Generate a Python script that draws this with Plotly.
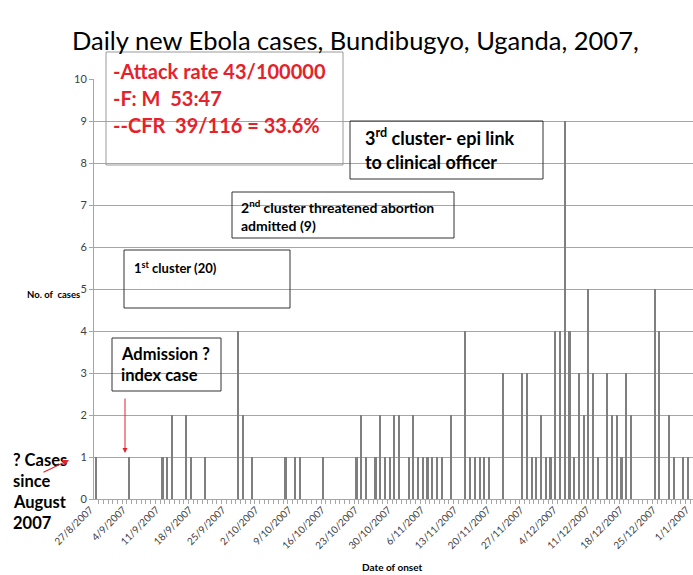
import numpy as np
import plotly.graph_objects as go

# Daily new cases by date of onset, one value per day from 27/8/2007
daily_cases = [
    1, 0, 0, 0, 0, 0, 0,
    1, 0, 0, 0, 0, 0, 0,
    1, 1, 2, 0, 0, 2, 1,
    0, 0, 1, 0, 0, 0, 0,
    0, 0, 4, 2, 0, 1, 0,
    0, 0, 0, 0, 0, 1, 0,
    1, 1, 0, 0, 0, 0, 1,
    0, 0, 0, 0, 0, 0, 1,
    2, 1, 0, 1, 2, 1, 1,
    2, 2, 0, 1, 2, 1, 1,
    1, 1, 1, 1, 0, 2, 0,
    0, 4, 1, 1, 1, 1, 1,
    0, 0, 3, 0, 0, 0, 3,
    3, 1, 1, 2, 1, 1, 4,
    4, 9, 4, 1, 3, 2, 5,
    3, 1, 0, 3, 2, 2, 1,
    3, 2, 0, 0, 0, 0, 5,
    4, 0, 2, 1, 0, 1, 1,
    0,
]

# Weekly date labels along the x axis
tick_labels = [
    "27/8/2007", "4/9/2007", "11/9/2007", "18/9/2007", "25/9/2007",
    "2/10/2007", "9/10/2007", "16/10/2007", "23/10/2007", "30/10/2007",
    "6/11/2007", "13/11/2007", "20/11/2007", "27/11/2007", "4/12/2007",
    "11/12/2007", "18/12/2007", "25/12/2007", "1/1/2007",
]
tick_step = 7

summary_lines = ["-Attack rate 43/100000", "-F: M  53:47", "--CFR  39/116 = 33.6%"]
note_3rd = ["3<sup>rd</sup> cluster- epi link", "to clinical officer"]
note_2nd = ["2<sup>nd</sup> cluster threatened abortion", "admitted (9)"]
note_1st = ["1<sup>st</sup> cluster (20)"]
note_index = ["Admission ?", "index case"]
note_since = ["? Cases", "since", "August", "2007"]

W, H = 693, 575
L, R, T, B = 94, 0, 79, 76
PW, PH = W - L - R, H - T - B
FONT = "Lato, 'Open Sans', sans-serif"
RED = "#e4222b"
GRID = "#a6a6a6"


def px(xp):
    return (xp - L) / PW


def py(yp):
    return (H - B - yp) / PH


days = np.arange(len(daily_cases))

fig = go.Figure()
fig.add_trace(go.Bar(
    x=days, y=daily_cases, width=0.45,
    marker=dict(color="#7f7f7f", line=dict(width=0)),
    hoverinfo="x+y",
))

shapes = []
annotations = []


def box(x0, y0, x1, y1, color="#333333"):
    shapes.append(dict(type="rect", xref="paper", yref="paper",
                       x0=px(x0), x1=px(x1), y0=py(y1), y1=py(y0),
                       line=dict(color=color, width=1), fillcolor="rgba(255,255,255,0)",
                       layer="above"))


def text_lines(lines, x, ys, size, color="#000000", bold=True):
    for line, yy in zip(lines, ys):
        annotations.append(dict(
            xref="paper", yref="paper", x=px(x), y=py(yy),
            xanchor="left", yanchor="middle", showarrow=False,
            text=f"<b>{line}</b>" if bold else line,
            font=dict(family=FONT, size=size, color=color),
        ))


# summary statistics box
box(106, 52, 343, 165, color="#9a9a9a")
text_lines(summary_lines, 111, [71, 98, 125], 20, color=RED)

# cluster notes
box(350, 121, 543, 179)
text_lines(note_3rd, 363, [137, 162], 18)
box(232, 192, 454, 238)
text_lines(note_2nd, 239, [206, 225], 14)
box(124, 250, 290, 308)
text_lines(note_1st, 132, [267], 13)
box(112, 338, 221, 391)
text_lines(note_index, 119, [354, 375], 16.5)
text_lines(note_since, 11, [460, 481, 502, 523], 16.5)

# red arrows
annotations.append(dict(xref="paper", yref="paper", x=px(125), y=py(453),
                        ax=0, ay=-56, showarrow=True, arrowhead=2, arrowsize=1,
                        arrowwidth=1, arrowcolor=RED, text=""))
annotations.append(dict(xref="paper", yref="paper", x=px(69), y=py(460),
                        ax=-27, ay=13, showarrow=True, arrowhead=2, arrowsize=1,
                        arrowwidth=1.3, arrowcolor=RED, text=""))

# axis titles
annotations.append(dict(xref="paper", yref="paper", x=px(25), y=py(294),
                        xanchor="left", yanchor="middle", showarrow=False,
                        text="<b>No. of  cases</b>",
                        font=dict(family=FONT, size=9.5, color="#000000")))
annotations.append(dict(xref="paper", yref="paper", x=px(392), y=py(567),
                        xanchor="center", yanchor="middle", showarrow=False,
                        text="<b>Date of onset</b>",
                        font=dict(family=FONT, size=10, color="#000000")))

# chart title
annotations.append(dict(xref="paper", yref="paper", x=px(355), y=py(40),
                        xanchor="center", yanchor="middle", showarrow=False,
                        text="Daily new Ebola cases, Bundibugyo, Uganda, 2007,",
                        font=dict(family=FONT, size=25.5, color="#000000")))

tickvals = list(range(0, len(daily_cases), tick_step))[:len(tick_labels)]

fig.update_layout(
    width=W, height=H,
    margin=dict(l=L, r=R, t=T, b=B, pad=0),
    paper_bgcolor="white", plot_bgcolor="white",
    showlegend=False, bargap=0,
    shapes=shapes, annotations=annotations,
    xaxis=dict(
        range=[-0.47, 126.1],
        tickmode="array", tickvals=tickvals, ticktext=tick_labels,
        tickangle=-45, ticks="", showgrid=False, zeroline=False,
        ticklabeloverflow="allow", ticklabelshift=-6,
        showline=True, linecolor=GRID, linewidth=1,
        tickfont=dict(family=FONT, size=10, color="#404040"),
        minor=dict(tickmode="linear", tick0=-0.5, dtick=1, ticks="outside",
                   ticklen=4, tickcolor=GRID, tickwidth=1, showgrid=False),
    ),
    yaxis=dict(
        range=[0, 10], tickmode="linear", tick0=0, dtick=1,
        showgrid=True, gridcolor=GRID, gridwidth=1, zeroline=False,
        showline=True, linecolor=GRID, linewidth=1,
        ticks="outside", ticklen=4, tickcolor=GRID,
        tickfont=dict(family=FONT, size=11, color="#404040"),
    ),
)

fig.write_html("out.html")
